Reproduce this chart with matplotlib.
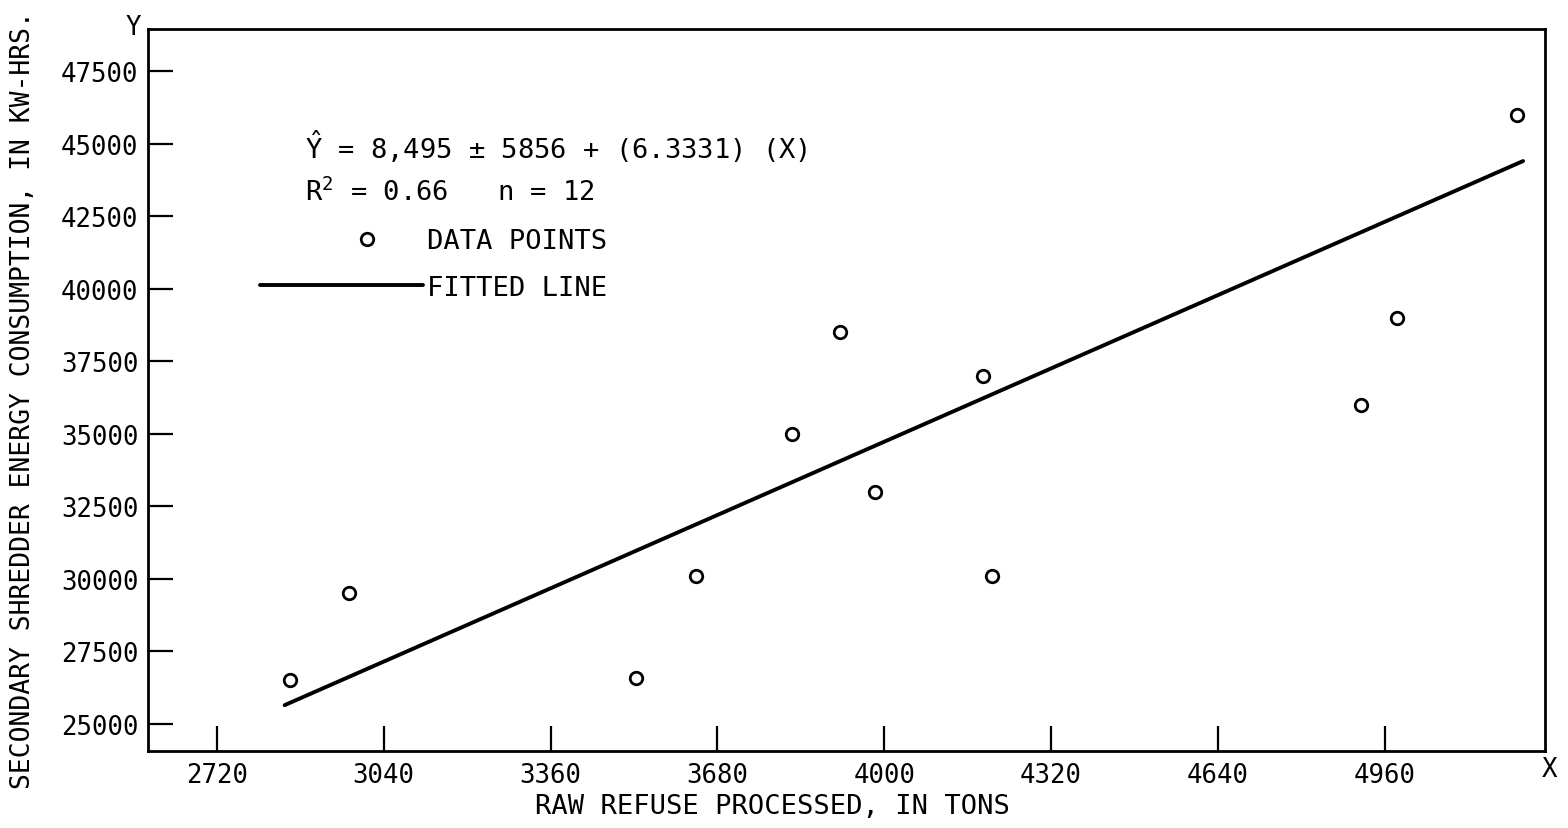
import matplotlib
matplotlib.use("Agg")
import matplotlib.pyplot as plt
from matplotlib.legend_handler import HandlerLine2D

# ---- data ----
refuse_tons = [2860, 2973, 3524, 3639, 3823, 3915, 3982, 4189, 4206, 4914, 4983, 5213]
energy_kwh = [26500, 29500, 26600, 30100, 35000, 38500, 33000, 37000, 30100, 36000, 39000, 46000]
fit_x = [2850, 5225]
fit_y = [25650, 44400]
x_ticks = [2720, 3040, 3360, 3680, 4000, 4320, 4640, 4960]
y_ticks = [25000, 27500, 30000, 32500, 35000, 37500, 40000, 42500, 45000, 47500]

FONT = ["DejaVu Sans Mono", "DejaVu Sans"]
plt.rcParams["font.family"] = FONT
plt.rcParams["mathtext.fontset"] = "custom"
plt.rcParams["mathtext.rm"] = "DejaVu Sans Mono"
plt.rcParams["mathtext.it"] = "DejaVu Sans Mono"

W, H = 1568, 829
fig = plt.figure(figsize=(W / 100, H / 100), dpi=100)
L, R, T, B = 148, 1545, 30, 752
ax = fig.add_axes([L / W, 1 - B / H, (R - L) / W, (B - T) / H])

ax.plot(fit_x, fit_y, color="black", lw=2.8, solid_capstyle="round", label="FITTED LINE")
ax.plot(refuse_tons, energy_kwh, linestyle="none", marker="o", ms=9, mfc="white",
        mec="black", mew=2.0, label="DATA POINTS")

ax.set_xlim(2588, 5267)
ax.set_ylim(24070, 48950)
ax.set_xticks(x_ticks)
ax.set_yticks(y_ticks)
ax.set_xticklabels([str(v) for v in x_ticks])
ax.set_yticklabels([str(v) for v in y_ticks])
ax.tick_params(axis="both", direction="in", length=18, width=1.6, labelsize=18.5, colors="black")
ax.tick_params(axis="x", pad=8)
ax.tick_params(axis="y", pad=7)
for s in ax.spines.values():
    s.set_linewidth(2.0)
    s.set_color("black")

ax.set_xlabel("RAW REFUSE PROCESSED, IN TONS", fontsize=19.5)
ax.set_ylabel("SECONDARY SHREDDER ENERGY CONSUMPTION, IN KW-HRS.", fontsize=19)
ax.xaxis.set_label_coords((772 - L) / (R - L), (B - 794) / (B - T))
ax.yaxis.set_label_coords((36 - L) / (R - L), (B - 400) / (B - T))


def fx(px):
    return (px - L) / (R - L)


def fy(py):
    return (B - py) / (B - T)


ax.text(fx(305), fy(147), r"$\hat{\mathrm{Y}}$ = 8,495 ± 5856 + (6.3331) (X)", fontsize=19.5,
        va="center", ha="left", transform=ax.transAxes)
ax.text(fx(305), fy(193), r"R$^{2}$ = 0.66   n = 12", fontsize=19.5,
        va="center", ha="left", transform=ax.transAxes)


class OffsetMarkerHandler(HandlerLine2D):
    def create_artists(self, legend, orig_handle, xdescent, ydescent, width, height,
                       fontsize, trans):
        arts = super().create_artists(legend, orig_handle, xdescent, ydescent, width,
                                      height, fontsize, trans)
        for a in arts:
            xd = list(a.get_xdata())
            if len(xd) == 3:
                a.set_xdata([xd[0], xd[0] + 0.66 * (xd[-1] - xd[0]), xd[-1]])
        return arts


handles, labels = ax.get_legend_handles_labels()
leg = ax.legend(handles[::-1], labels[::-1], loc="center left",
                bbox_to_anchor=(fx(260), fy(265.5)), frameon=False, borderpad=0,
                borderaxespad=0, handlelength=6.0, handletextpad=0.15,
                labelspacing=0.75, fontsize=19.5, numpoints=1,
                handler_map={handles[1]: OffsetMarkerHandler()})

ax.text(fx(133), fy(28), "Y", fontsize=18.5, ha="center", va="center", transform=ax.transAxes)
ax.text(fx(1550), fy(770), "X", fontsize=18.5, ha="center", va="center", transform=ax.transAxes)

fig.savefig("out.png", dpi=100, facecolor="white")
